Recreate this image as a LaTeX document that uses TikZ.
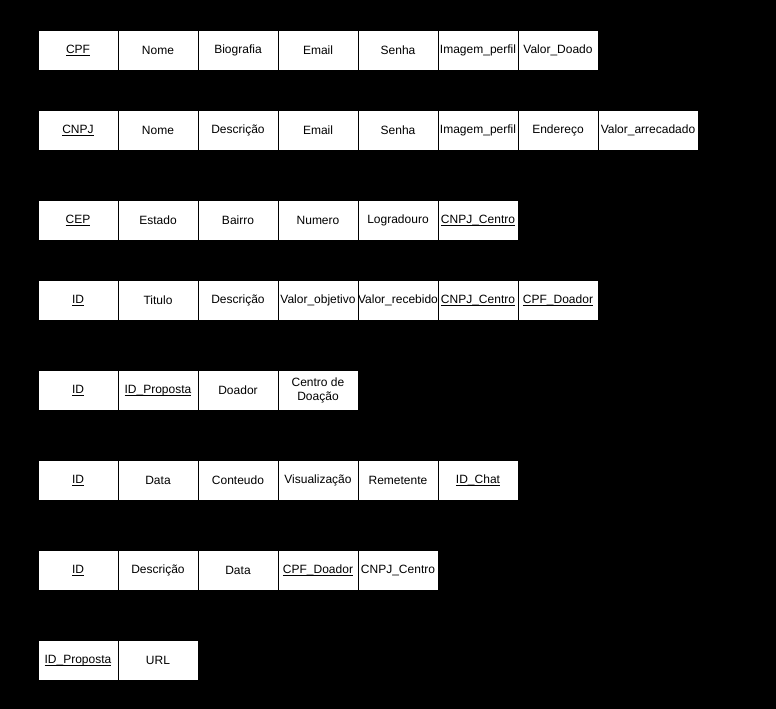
\documentclass[tikz,border=0pt]{standalone}
\usepackage{fontspec}
\setmainfont{Liberation Sans}
\newcommand{\ul}[1]{\setbox0\hbox{#1}\rlap{\rule[-2.3pt]{\wd0}{0.7pt}}\box0}
\begin{document}
\begin{tikzpicture}[x=1pt,y=-1pt,
  cell/.style={draw=black,fill=white,line width=1pt,minimum width=80pt,minimum height=40pt,inner sep=0pt,anchor=north west,font=\fontsize{12}{14}\selectfont,align=center},
  wide/.style={cell,minimum width=100pt}]
\fill[black] (0,0) rectangle (776,709);
\useasboundingbox (0,0) rectangle (776,709);
% row 1
\node[cell] (a1) at (37.5,30) {\ul{CPF}};
\node[cell] (a2) at (117.5,30) {Nome};
\node[cell] (a3) at (197.5,30) {Biografia};
\node[cell] (a4) at (277.5,30) {Email};
\node[cell] (a5) at (357.5,30) {Senha};
\node[cell] (a6) at (437.5,30) {Imagem\_perfil};
\node[cell] (a7) at (517.5,30) {Valor\_Doado};
% row 2
\node[cell] (b1) at (37.5,110) {\ul{CNPJ}};
\node[cell] (b2) at (117.5,110) {Nome};
\node[cell] (b3) at (197.5,110) {Descrição};
\node[cell] (b4) at (277.5,110) {Email};
\node[cell] (b5) at (357.5,110) {Senha};
\node[cell] (b6) at (437.5,110) {Imagem\_perfil};
\node[cell] (b7) at (517.5,110) {Endereço};
\node[wide] (b8) at (597.5,110) {Valor\_arrecadado};
% row 3
\node[cell] (c1) at (37.5,200) {\ul{CEP}};
\node[cell] (c2) at (117.5,200) {Estado};
\node[cell] (c3) at (197.5,200) {Bairro};
\node[cell] (c4) at (277.5,200) {Numero};
\node[cell] (c5) at (357.5,200) {Logradouro};
\node[cell] (c6) at (437.5,200) {\ul{CNPJ\_Centro}};
% row 4
\node[cell] (d1) at (37.5,280) {\ul{ID}};
\node[cell] (d2) at (117.5,280) {Titulo};
\node[cell] (d3) at (197.5,280) {Descrição};
\node[cell] (d4) at (277.5,280) {Valor\_objetivo};
\node[cell] (d5) at (357.5,280) {Valor\_recebido};
\node[cell] (d6) at (437.5,280) {\ul{CNPJ\_Centro}};
\node[cell] (d7) at (517.5,280) {\ul{CPF\_Doador}};
% row 5
\node[cell] (e1) at (37.5,370) {\ul{ID}};
\node[cell] (e2) at (117.5,370) {\ul{ID\_Proposta}};
\node[cell] (e3) at (197.5,370) {Doador};
\node[cell] (e4) at (277.5,370) {Centro de\\Doação};
% row 6
\node[cell] (f1) at (37.5,460) {\ul{ID}};
\node[cell] (f2) at (117.5,460) {Data};
\node[cell] (f3) at (197.5,460) {Conteudo};
\node[cell] (f4) at (277.5,460) {Visualização};
\node[cell] (f5) at (357.5,460) {Remetente};
\node[cell] (f6) at (437.5,460) {\ul{ID\_Chat}};
% row 7
\node[cell] (g1) at (37.5,550) {\ul{ID}};
\node[cell] (g2) at (117.5,550) {Descrição};
\node[cell] (g3) at (197.5,550) {Data};
\node[cell] (g4) at (277.5,550) {\ul{CPF\_Doador}};
\node[cell] (g5) at (357.5,550) {CNPJ\_Centro};
% row 8
\node[cell] (h1) at (37.5,640) {\ul{ID\_Proposta}};
\node[cell] (h2) at (117.5,640) {URL};
\end{tikzpicture}
\end{document}
